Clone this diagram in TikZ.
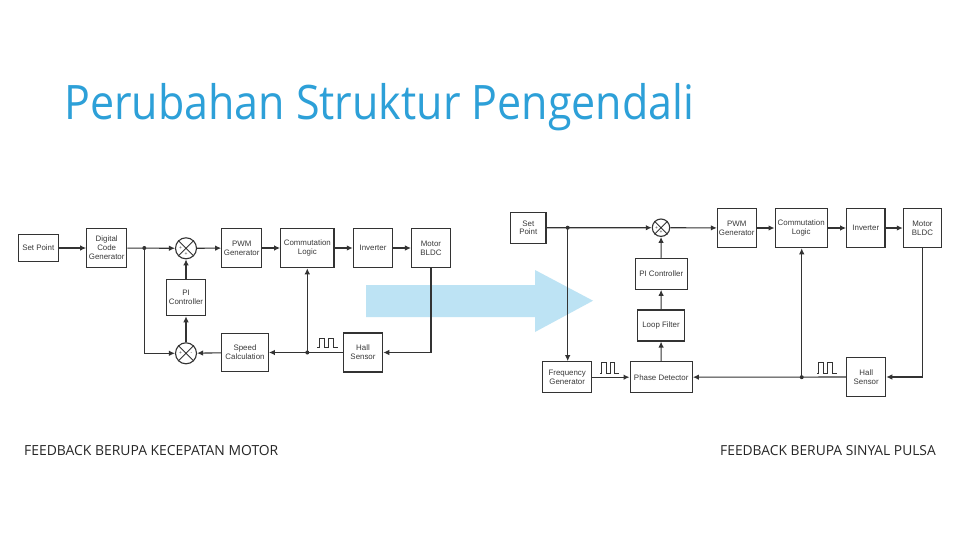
\documentclass[tikz,border=0pt]{standalone}
\usepackage{fontspec}
\setmainfont{Liberation Sans}
\newfontfamily\titlefont[FakeStretch=0.905]{Open Sans}
\newfontfamily\labelfont{Open Sans}
\usetikzlibrary{arrows.meta,calc}
\definecolor{linec}{HTML}{333333}
\definecolor{txtc}{HTML}{3A3A3A}
\definecolor{titlec}{RGB}{45,160,216}
\definecolor{arrowc}{HTML}{BDE3F4}
\tikzset{
  blk/.style={draw=linec, line width=1.1pt, fill=white, inner sep=1pt, align=center,
    font=\fontsize{7.9}{8.9}\selectfont, text=txtc},
  sumc/.style={circle, draw=linec, line width=1.1pt, inner sep=0pt, fill=white},
  conn/.style={draw=linec, line width=1.1pt, -{Latex[length=6pt,width=5.5pt]}},
  sgn/.style={font=\fontsize{5}{5}\selectfont, text=txtc, inner sep=0pt},
  pulse/.style={draw=linec, line width=1pt},
  dot/.style={fill=linec}
}
\begin{document}
\begin{tikzpicture}[x=1pt,y=-1pt]
\useasboundingbox (0,0) rectangle (960,540);
\fill[white] (0,0) rectangle (960,540);

% title
\node[anchor=base west, inner sep=0pt, text=titlec, font=\titlefont\fontsize{47.5}{50}\selectfont] (title) at (64,120) {Perubahan Struktur Pengendali};

% big arrow
\fill[arrowc] (366,285) -- (535,285) -- (535,270) -- (593,300.7) -- (535,332) -- (535,317) -- (366,317) -- cycle;

% ===== left diagram =====
\node[blk, minimum width=40pt, minimum height=27.4pt] (sp1) at (38.3,248) {Set Point};
\node[blk, minimum width=40pt, minimum height=39.4pt] (dcg1) at (106.7,248) {Digital\\Code\\Generator};
\node[sumc, minimum size=21pt] (sum1) at (186,248.3) {};
\node[blk, minimum width=40pt, minimum height=39.4pt] (pwm1) at (241.7,248) {PWM\\Generator};
\node[blk, minimum width=53.3pt, minimum height=39.4pt] (com1) at (307.3,248) {Commutation\\Logic};
\node[blk, minimum width=39.4pt, minimum height=39.4pt] (inv1) at (373,248) {Inverter};
\node[blk, minimum width=39pt, minimum height=39.4pt] (mot1) at (431,248) {Motor\\BLDC};
\node[blk, minimum width=39pt, minimum height=36.4pt] (pi1) at (186,297.5) {PI\\Controller};
\node[sumc, minimum size=21pt] (sum2) at (186,353.3) {};
\node[blk, minimum width=46.7pt, minimum height=38.4pt] (spd1) at (245,352.5) {Speed\\Calculation};
\node[blk, minimum width=39.4pt, minimum height=39pt] (hall1) at (363,352.5) {Hall\\Sensor};
\coordinate (j1a) at (144.3,248);
\coordinate (j1b) at (307.3,352.5);

\draw[linec, line width=0.9pt] (sum1.north east) -- (sum1.south west) (sum1.north west) -- (sum1.south east);
\draw[linec, line width=0.9pt] (sum2.north east) -- (sum2.south west) (sum2.north west) -- (sum2.south east);
\node[sgn] (s1a) at ($(sum1.center)+(-5.5,0)$) {+};
\node[sgn] (s1b) at ($(sum1.center)+(0,5.5)$) {+};
\node[sgn] (s2a) at ($(sum2.center)+(-5.5,0)$) {+};
\node[sgn] (s2b) at ($(sum2.center)+(5.5,0)$) {-};

\draw[conn] (sp1) -- (dcg1);
\draw[conn] (dcg1) -- (sum1);
\draw[conn] (sum1) -- (pwm1);
\draw[conn] (pwm1) -- (com1);
\draw[conn] (com1) -- (inv1);
\draw[conn] (inv1) -- (mot1);
\draw[conn] (j1a) |- (sum2);
\draw[conn] (sum2) -- (pi1);
\draw[conn] (pi1) -- (sum1);
\draw[conn] (spd1) -- (sum2);
\draw[conn] (mot1.south) |- (hall1.east);
\draw[conn] (hall1) -- (spd1);
\draw[conn] (j1b) -- (com1.south);
\fill[dot] (j1a) circle (2pt);
\fill[dot] (j1b) circle (2pt);
\draw[pulse] (317,347.7) -- (319,347.7) -- (319,338) -- (324,338) -- (324,347.7) -- (328.5,347.7) -- (328.5,338) -- (333.5,338) -- (333.5,347.7) -- (338,347.7);

% ===== right diagram =====
\node[blk, minimum width=35.3pt, minimum height=31pt] (sp2) at (528.3,227.8) {Set\\Point};
\node[sumc, minimum size=17.4pt] (sum3) at (661,227.7) {};
\node[blk, minimum width=38.7pt, minimum height=39.4pt] (pwm2) at (736.7,228) {PWM\\Generator};
\node[blk, minimum width=52.3pt, minimum height=39.4pt] (com2) at (801.2,228) {Commutation\\Logic};
\node[blk, minimum width=38.3pt, minimum height=39.4pt] (inv2) at (865.8,228) {Inverter};
\node[blk, minimum width=38.4pt, minimum height=39.4pt] (mot2) at (922.5,228) {Motor\\BLDC};
\node[blk, minimum width=52.3pt, minimum height=31pt] (pi2) at (661.2,273.8) {PI Controller};
\node[blk, minimum width=46.7pt, minimum height=31pt] (lf2) at (661,325.5) {Loop Filter};
\node[blk, minimum width=49pt, minimum height=31pt] (fg2) at (567.2,377.2) {Frequency\\Generator};
\node[blk, minimum width=62.3pt, minimum height=31pt] (pd2) at (661.2,377.2) {Phase Detector};
\node[blk, minimum width=39pt, minimum height=39.4pt] (hall2) at (866.2,377) {Hall\\Sensor};
\coordinate (j2a) at (567.7,227.7);
\coordinate (j2b) at (801.7,377.2);

\draw[linec, line width=0.9pt] (sum3.north east) -- (sum3.south west) (sum3.north west) -- (sum3.south east);
\node[sgn] (s3a) at ($(sum3.center)+(-4.5,0)$) {+};
\node[sgn] (s3b) at ($(sum3.center)+(0,4.5)$) {+};

\draw[conn] (sp2) -- (sum3);
\draw[conn] (j2a) -- (j2a |- fg2.north);
\draw[conn] (sum3) -- (pwm2);
\draw[conn] (pwm2) -- (com2);
\draw[conn] (com2) -- (inv2);
\draw[conn] (inv2) -- (mot2);
\draw[conn] (fg2) -- (pd2);
\draw[conn] (pd2) -- (lf2);
\draw[conn] (lf2) -- (pi2);
\draw[conn] (pi2) -- (sum3);
\draw[conn] (mot2.south) |- (hall2.east);
\draw[conn] (hall2) -- (pd2);
\draw[conn] (j2b) -- (j2b |- com2.south);
\fill[dot] (j2a) circle (2pt);
\fill[dot] (j2b) circle (2pt);
\draw[pulse] (600,373.3) -- (601.5,373.3) -- (601.5,362) -- (606,362) -- (606,373.3) -- (610,373.3) -- (610,362) -- (614.5,362) -- (614.5,373.3) -- (619,373.3);
\draw[pulse] (817.3,373.3) -- (818.8,373.3) -- (818.8,362) -- (823.3,362) -- (823.3,373.3) -- (827.5,373.3) -- (827.5,362) -- (832,362) -- (832,373.3) -- (836.7,373.3);

% labels
\node[anchor=base west, inner sep=0pt, text=black!85, font=\labelfont\fontsize{13.9}{15}\selectfont] (lab1) at (24,455.7) {FEEDBACK BERUPA KECEPATAN MOTOR};
\node[anchor=base west, inner sep=0pt, text=black!85, font=\labelfont\fontsize{13.8}{15}\selectfont] (lab2) at (720,455.7) {FEEDBACK BERUPA SINYAL PULSA};
\end{tikzpicture}
\end{document}
